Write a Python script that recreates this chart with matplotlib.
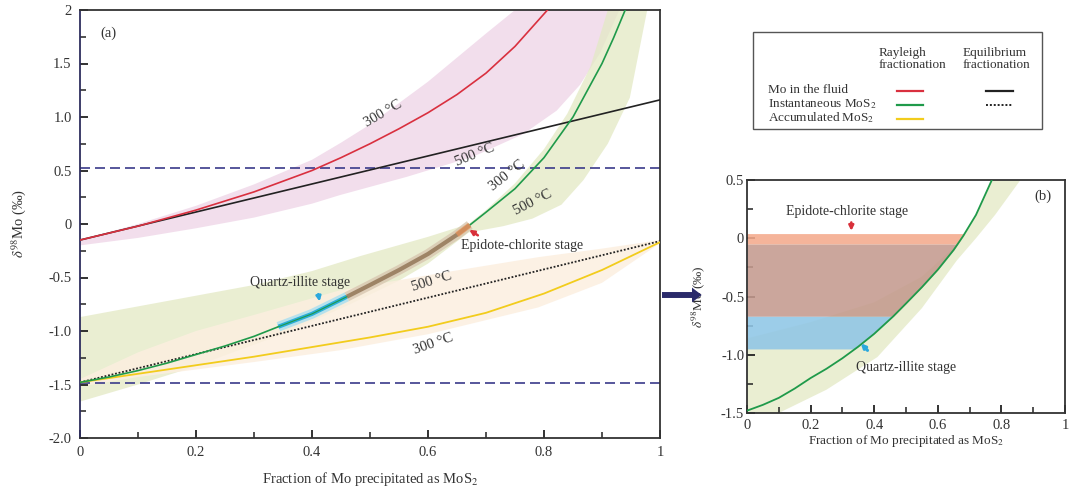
import numpy as np
import matplotlib
matplotlib.use("Agg")
import matplotlib.pyplot as plt
from matplotlib.patches import Rectangle, FancyArrow
from matplotlib.lines import Line2D

plt.rcParams['font.family'] = ['Liberation Serif', 'DejaVu Serif']
plt.rcParams['mathtext.fontset'] = 'stix'

# ---- data ----
# panel (a): Rayleigh / equilibrium curves (f = fraction of Mo precipitated)
fluid_f = [0, 0.1, 0.2, 0.3, 0.4, 0.45, 0.5, 0.55, 0.6, 0.65, 0.7, 0.75, 0.806]
fluid_d = [-0.15, -0.02, 0.13, 0.3, 0.5, 0.62, 0.75, 0.89, 1.04, 1.21, 1.41, 1.66, 2.0]

inst_f = [0, 0.05, 0.1, 0.15, 0.2, 0.25, 0.3, 0.342, 0.4, 0.46, 0.5, 0.55, 0.6,
          0.65, 0.672, 0.7, 0.75, 0.8, 0.85, 0.9, 0.92, 0.94]
inst_d = [-1.48, -1.43, -1.37, -1.3, -1.22, -1.14, -1.05, -0.96, -0.84, -0.68,
          -0.57, -0.43, -0.28, -0.1, -0.01, 0.11, 0.33, 0.62, 1.0, 1.5, 1.74, 2.0]

accum_f = [0, 0.1, 0.2, 0.3, 0.4, 0.5, 0.6, 0.7, 0.8, 0.9, 1.0]
accum_d = [-1.48, -1.4, -1.32, -1.24, -1.15, -1.06, -0.96, -0.83, -0.65, -0.43, -0.17]

eq_fluid_f = [0, 1]
eq_fluid_d = [-0.15, 1.16]
eq_inst_f = [0, 1]
eq_inst_d = [-1.48, -0.16]

dashed_levels = [0.52, -1.49]

# temperature envelopes (300 / 500 degC)
pink_up_f = [0, 0.1, 0.2, 0.3, 0.4, 0.45, 0.5, 0.6, 0.7, 0.75]
pink_up_d = [-0.15, 0.0, 0.17, 0.37, 0.6, 0.76, 0.93, 1.33, 1.78, 2.0]
pink_lo_f = [0, 0.1, 0.2, 0.3, 0.4, 0.448, 0.563, 0.678, 0.764, 0.822, 0.862, 0.897, 0.93]
pink_lo_d = [-0.2, -0.13, -0.04, 0.06, 0.19, 0.27, 0.44, 0.63, 0.84, 1.06, 1.3, 1.6, 2.0]

green_a_f = [0, 0.1, 0.2, 0.3, 0.4, 0.483, 0.6, 0.67, 0.7, 0.75, 0.8, 0.84, 0.88, 0.91]
green_a_d = [-0.87, -0.77, -0.67, -0.57, -0.44, -0.3, -0.12, 0.0, 0.13, 0.38, 0.7, 1.03, 1.47, 2.0]
green_b_f = [0, 0.1, 0.2, 0.264, 0.35, 0.466, 0.55, 0.6, 0.67, 0.73, 0.78, 0.83, 0.868, 0.91, 0.948, 0.978]
green_b_d = [-1.66, -1.5, -1.33, -1.2, -1.03, -0.75, -0.53, -0.37, -0.08, -0.02, 0.05, 0.18, 0.41, 0.75, 1.18, 2.0]

peach_up_f = [0, 0.1, 0.2, 0.3, 0.448, 0.62, 0.79, 0.9, 1.0]
peach_up_d = [-1.45, -1.2, -1.0, -0.85, -0.62, -0.46, -0.31, -0.23, -0.15]
peach_lo_f = [0, 0.1, 0.2, 0.3, 0.448, 0.6, 0.79, 0.9, 1.0]
peach_lo_d = [-1.52, -1.43, -1.36, -1.29, -1.18, -1.03, -0.78, -0.55, -0.18]

# mineral stages on the instantaneous MoS2 curve
quartz_f = (0.342, 0.46)
epidote_f = (0.46, 0.672)

# panel (b)
b_curve_f = [0, 0.05, 0.1, 0.15, 0.2, 0.25, 0.3, 0.35, 0.4, 0.46, 0.5, 0.55,
             0.6, 0.65, 0.68, 0.72, 0.77]
b_curve_d = [-1.48, -1.43, -1.37, -1.29, -1.2, -1.12, -1.03, -0.93, -0.82,
             -0.67, -0.56, -0.42, -0.27, -0.1, 0.02, 0.2, 0.5]
b_band_a_f = [0, 0.2, 0.4, 0.55, 0.65, 0.68, 0.72, 0.77]
b_band_a_d = [-0.86, -0.72, -0.55, -0.33, -0.08, 0.02, 0.2, 0.5]
b_band_b_f = [0.86, 0.78, 0.72, 0.66, 0.55, 0.41, 0.25, 0.1]
b_band_b_d = [0.5, 0.2, 0.0, -0.19, -0.6, -1.02, -1.3, -1.5]
b_stage_edges = [0.04, -0.05, -0.67, -0.95]   # salmon / brown / blue
b_stage_colors = ['#f4aa8c', '#c49a8e', '#8fc6e6']

a_yticks = [2, 1.5, 1.0, 0.5, 0, -0.5, -1.0, -1.5, -2.0]
a_ylabels = ['2', '1.5', '1.0', '0.5', '0', '-0.5', '-1.0', '-1.5', '-2.0']
b_yticks = [0.5, 0, -0.5, -1.0, -1.5]
b_ylabels = ['0.5', '0', '-0.5', '-1.0', '-1.5']
xticks = [0, 0.2, 0.4, 0.6, 0.8, 1.0]
xlabels = ['0', '0.2', '0.4', '0.6', '0.8', '1']

RED = '#d9303f'
GREEN = '#1f9a4a'
YELLOW = '#f2cc1c'
BLACK = '#222222'
NAVY = '#3a3a8a'
TXT = '#333333'


def style_axes(ax, yticks, ylabels, pad=6):
    ax.set_xticks(xticks)
    ax.set_xticklabels(xlabels)
    ax.set_xticks(np.arange(0.1, 1.0, 0.2), minor=True)
    ax.set_yticks(yticks)
    ax.set_yticklabels(ylabels)
    ax.set_yticks(np.array(yticks[:-1]) - 0.25, minor=True)
    ax.tick_params(which='both', direction='in', colors='#222222',
                   labelcolor=TXT, labelsize=10.5, pad=pad)
    ax.tick_params(which='major', length=6, width=1.3)
    ax.tick_params(which='minor', length=4, width=1.1)
    for s in ax.spines.values():
        s.set_color('#333333')
        s.set_linewidth(1.3)


fig = plt.figure(figsize=(10.75, 4.95), dpi=100)

# ---------------- panel (a) ----------------
ax = fig.add_axes([80 / 1075, 1 - 438 / 495, 580 / 1075, 428 / 495])
ax.set_xlim(0, 1)
ax.set_ylim(-2, 2)

ax.fill(pink_up_f + pink_lo_f[::-1], pink_up_d + pink_lo_d[::-1],
        color='#efd6e8', alpha=0.8, lw=0, zorder=1)
ax.fill(green_a_f + green_b_f[::-1], green_a_d + green_b_d[::-1],
        color='#e3e9c4', alpha=0.75, lw=0, zorder=1)
ax.fill(peach_up_f + peach_lo_f[::-1], peach_up_d + peach_lo_d[::-1],
        color='#fcefe0', alpha=0.85, lw=0, zorder=1)

for lv in dashed_levels:
    ax.axhline(lv, color=NAVY, lw=1.2, ls=(0, (6, 3)), zorder=2)

ax.plot(eq_fluid_f, eq_fluid_d, color=BLACK, lw=1.2, zorder=3)
ax.plot(eq_inst_f, eq_inst_d, color=BLACK, lw=1.3, ls=(0, (1, 1)), zorder=3)
ax.plot(fluid_f, fluid_d, color=RED, lw=1.2, zorder=3)
ax.plot(accum_f, accum_d, color=YELLOW, lw=1.3, zorder=3)
ax.plot(inst_f, inst_d, color=GREEN, lw=1.2, zorder=3)

inst_f_arr = np.array(inst_f)
inst_d_arr = np.array(inst_d)
m_q = (inst_f_arr >= quartz_f[0]) & (inst_f_arr <= quartz_f[1])
m_e = (inst_f_arr >= epidote_f[0]) & (inst_f_arr <= epidote_f[1])
ax.plot(inst_f_arr[m_q], inst_d_arr[m_q], color='#a7def0', lw=7, alpha=0.8,
        solid_capstyle='butt', zorder=4)
ax.plot(inst_f_arr[m_q], inst_d_arr[m_q], color='#2aaed8', lw=3,
        solid_capstyle='butt', zorder=4)
ax.plot(inst_f_arr[m_e], inst_d_arr[m_e], color='#d8c7b0', lw=7, alpha=0.8,
        solid_capstyle='butt', zorder=4)
ax.plot(inst_f_arr[m_e], inst_d_arr[m_e], color='#9e8466', lw=3,
        solid_capstyle='butt', zorder=4)
ax.plot(inst_f_arr[m_e][-2:], inst_d_arr[m_e][-2:], color='#e8935a', lw=4,
        alpha=0.7, solid_capstyle='butt', zorder=4)
ax.plot(inst_f_arr[m_q], inst_d_arr[m_q], color=GREEN, lw=0.8, zorder=5)

temp_labels = [
    ('300 °C', 0.523, 1.03, 30),
    ('500 °C', 0.68, 0.64, 22),
    ('300 °C', 0.736, 0.45, 38),
    ('500 °C', 0.781, 0.2, 27),
    ('500 °C', 0.607, -0.54, 17),
    ('300 °C', 0.609, -1.12, 19),
]
for t, x, y, r in temp_labels:
    ax.text(x, y, t, rotation=r, ha='center', va='center', fontsize=10.5,
            color=TXT, zorder=6)

ax.text(0.035, 1.78, '(a)', fontsize=10.5, color=TXT, va='center')
ax.text(0.38, -0.55, 'Quartz-illite stage', fontsize=10, color=TXT,
        ha='center', va='center', zorder=6)
ax.annotate('', xy=(0.414, -0.75), xytext=(0.41, -0.63),
            arrowprops=dict(arrowstyle='-|>', color='#2aa8dd', lw=1.8,
                            mutation_scale=7), zorder=6)
ax.text(0.762, -0.2, 'Epidote-chlorite stage', fontsize=10, color=TXT,
        ha='center', va='center', zorder=6)
ax.annotate('', xy=(0.667, -0.04), xytext=(0.69, -0.12),
            arrowprops=dict(arrowstyle='-|>', color='#d8303a', lw=1.8,
                            mutation_scale=7), zorder=6)

style_axes(ax, a_yticks, a_ylabels)
ax.spines['left'].set_color('#2e2e5e')
ax.set_xlabel('Fraction of Mo precipitated as MoS$_2$', fontsize=10.5, color=TXT)
ax.xaxis.set_label_coords(0.5, -0.075)
ax.set_ylabel(r'$\delta^{98}$Mo (‰)', fontsize=10.5, color=TXT)
ax.yaxis.set_label_coords(-0.09, 0.5)

# ---------------- panel (b) ----------------
bx = fig.add_axes([747 / 1075, 1 - 413 / 495, 318 / 1075, 233 / 495])
bx.set_xlim(0, 1)
bx.set_ylim(-1.5, 0.5)

bx.fill([0] + b_band_a_f + b_band_b_f + [0], [-1.5] + b_band_a_d + b_band_b_d + [-1.5],
        color='#e3e9c4', alpha=0.75, lw=0, zorder=1)

# stage ranges bounded by the curve on the right
b_f_arr = np.array(b_curve_f)
b_d_arr = np.array(b_curve_d)
for top, bot, c in zip(b_stage_edges[:-1], b_stage_edges[1:], b_stage_colors):
    ys = np.linspace(bot, top, 30)
    xs = np.interp(ys, b_d_arr, b_f_arr)
    bx.fill_betweenx(ys, 0, xs, color=c, alpha=0.88, lw=0, zorder=2)

bx.plot(b_curve_f, b_curve_d, color=GREEN, lw=1.3, zorder=3)

bx.text(0.315, 0.23, 'Epidote-chlorite stage', fontsize=10, color=TXT,
        ha='center', va='center')
bx.annotate('', xy=(0.328, 0.04), xytext=(0.328, 0.16),
            arrowprops=dict(arrowstyle='-|>', color='#d8303a', lw=1.8,
                            mutation_scale=7), zorder=6)
bx.text(0.5, -1.11, 'Quartz-illite stage', fontsize=10, color=TXT,
        ha='center', va='center')
bx.annotate('', xy=(0.352, -0.885), xytext=(0.385, -0.98),
            arrowprops=dict(arrowstyle='-|>', color='#2aa8dd', lw=2.2,
                            mutation_scale=6), zorder=6)
bx.text(0.93, 0.36, '(b)', fontsize=10.5, color=TXT, ha='center', va='center')

style_axes(bx, b_yticks, b_ylabels, pad=2)
bx.tick_params(axis='x', pad=4)
bx.set_xlabel('Fraction of Mo precipitated as MoS$_2$', fontsize=9.5, color=TXT)
bx.xaxis.set_label_coords(0.5, -0.085)
bx.set_ylabel(r'$\delta^{98}$Mo (‰)', fontsize=9.5, color=TXT)
bx.yaxis.set_label_coords(-0.125, 0.5)

# arrow linking the panels
fig.patches.append(FancyArrow(
    662 / 1075, 1 - 295 / 495, 30 / 1075, 0, width=0.012, head_width=0.03,
    head_length=0.009, color='#2a2a6a', transform=fig.transFigure, lw=0))

# ---------------- legend box ----------------
W, H = 1075, 495
fig.patches.append(Rectangle((753 / W, 1 - 129 / H), 289 / W, 97 / H,
                             transform=fig.transFigure, fill=False,
                             edgecolor='#555555', lw=1.0))
leg_fs = 9.5
fig.text(879 / W, 1 - 59 / H, 'Rayleigh\nfractionation', fontsize=leg_fs,
         color=TXT, va='center', ha='left', linespacing=1.1)
fig.text(963 / W, 1 - 59 / H, 'Equilibrium\nfractionation', fontsize=leg_fs,
         color=TXT, va='center', ha='left', linespacing=1.1)
row_names = ['Mo in the fluid', 'Instantaneous MoS$_2$', 'Accumulated MoS$_2$']
row_y = [90, 104, 118]
ray_colors = [RED, GREEN, YELLOW]
for name, y, c in zip(row_names, row_y, ray_colors):
    fig.text(768 / W, 1 - y / H, name, fontsize=leg_fs, color=TXT, va='center')
    fig.lines.append(Line2D([897 / W, 923 / W], [1 - (y + 1) / H] * 2,
                            color=c, lw=1.6, transform=fig.transFigure))
fig.lines.append(Line2D([986 / W, 1013 / W], [1 - 91 / H] * 2, color=BLACK,
                        lw=1.6, transform=fig.transFigure))
fig.lines.append(Line2D([986 / W, 1013 / W], [1 - 105 / H] * 2, color=BLACK,
                        lw=1.4, ls=(0, (1, 1)), transform=fig.transFigure))

fig.savefig('out.png', dpi=100)
